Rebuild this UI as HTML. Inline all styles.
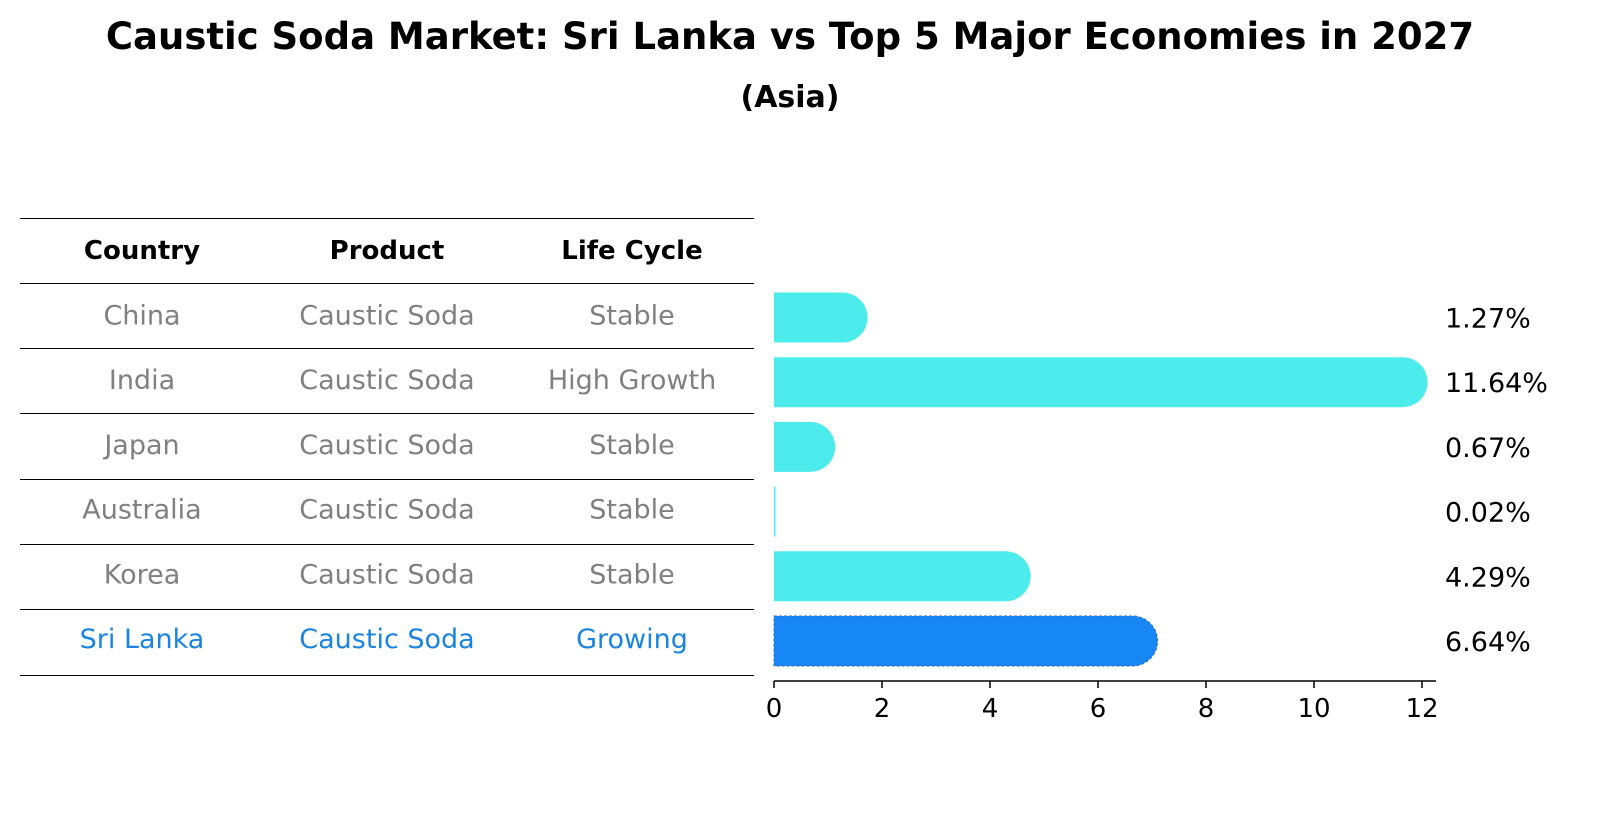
<!DOCTYPE html>
<html><head><meta charset="utf-8"><style>
body{margin:0;background:#fff;font-family:"Liberation Sans","DejaVu Sans",sans-serif}
svg text{font-family:"DejaVu Sans","Liberation Sans",sans-serif}
</style></head><body>
<svg id="c" width="1604" height="823" viewBox="0 0 1604 823" xmlns="http://www.w3.org/2000/svg">
<text x="790" y="49" text-anchor="middle" font-size="37" font-weight="bold">Caustic Soda Market: Sri Lanka vs Top 5 Major Economies in 2027</text>
<text x="790" y="107" text-anchor="middle" font-size="30" font-weight="bold">(Asia)</text>
<g id="table"></g>
<g id="bars"></g>
</svg>
<script>
const countries=["China","India","Japan","Australia","Korea","Sri Lanka"];
const products=["Caustic Soda","Caustic Soda","Caustic Soda","Caustic Soda","Caustic Soda","Caustic Soda"];
const lifeCycles=["Stable","High Growth","Stable","Stable","Stable","Growing"];
const values=[1.27,11.64,0.67,0.02,4.29,6.64];
const xTicks=[0,2,4,6,8,10,12];
const NS="http://www.w3.org/2000/svg";
function mk(t,a,p,txt){const e=document.createElementNS(NS,t);for(const k in a)e.setAttribute(k,a[k]);if(txt!==undefined)e.textContent=txt;p.appendChild(e);return e;}
const tbl=document.getElementById('table'),bars=document.getElementById('bars');
const lineYs=[218,283,348,413,479,544,609,675];
lineYs.forEach(y=>{const l=mk('line',{x1:20,x2:754,y1:y+0.5,y2:y+0.5,stroke:'#000','stroke-width':1,'shape-rendering':'crispEdges'},tbl);

});
const colX=[142,387,632];
["Country","Product","Life Cycle"].forEach((h,i)=>{const t=mk('text',{x:colX[i],y:259,'text-anchor':'middle','font-size':26,'font-weight':'bold'},tbl,h);

});
const rowY=i=>315.5+i*64.7;
const x=v=>774+v*54;
countries.forEach((c,i)=>{
 const hl=i===countries.length-1;const col=hl?'#1a84e0':'#808080';
 [c,products[i],lifeCycles[i]].forEach((s,j)=>{const t=mk('text',{x:colX[j],y:rowY(i)+9,'text-anchor':'middle','font-size':27,fill:col},tbl,s);
 
 });
 const yc=rowY(i)+2,h=50,r=25,x1=x(values[i]);
 const d=`M774 ${yc-h/2} H${x1} A${r} ${r} 0 0 1 ${x1} ${yc+h/2} H774 Z`;
 const p=mk('path',{d:values[i]<0.1?`M774 ${yc-h/2} H775.5 V${yc+h/2} H774 Z`:d,fill:hl?'#1787f5':'#4beceb',stroke:hl?'#2a6fc0':'none','stroke-dasharray':hl?'3 2':'none','stroke-width':1},bars);
 
 
 const lb=mk('text',{x:1445,y:yc+10,'font-size':27},bars,values[i].toFixed(2)+'%');
 
 
});
const ax=mk('line',{x1:774,x2:1436,y1:681,y2:681,stroke:'#000','stroke-width':1.5},bars);


xTicks.forEach(v=>{const tk=mk('line',{x1:x(v),x2:x(v),y1:681,y2:688,stroke:'#000','stroke-width':1.5},bars);


const t=mk('text',{x:x(v),y:717,'text-anchor':'middle','font-size':26},bars,String(v));

});
</script>
</body></html>
